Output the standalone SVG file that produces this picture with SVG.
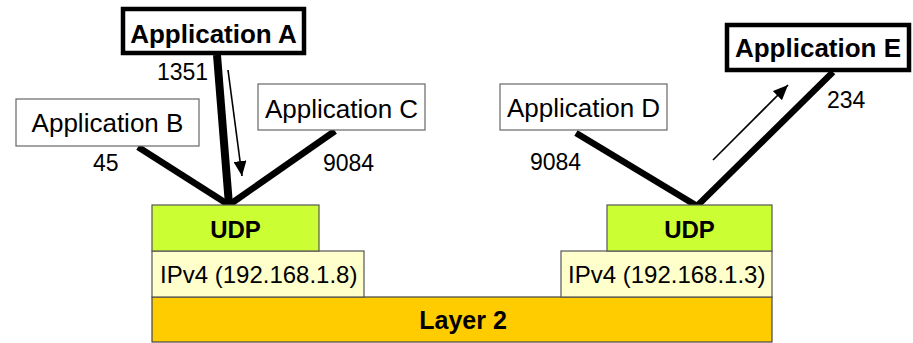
<svg xmlns="http://www.w3.org/2000/svg" width="913" height="343" viewBox="0 0 913 343">
<style>
text{font-family:"Liberation Sans",Arial,sans-serif;fill:#000}
.app{font-size:26px}
.bold{font-weight:bold}
.num{font-size:23px}
.lay{font-size:24px}
.l2t{font-size:25px}
.thin{fill:#fff;stroke:#666;stroke-width:1.2}
.thick{fill:#fff;stroke:#000;stroke-width:4.5}
.udp{fill:#CCFF33;stroke:#555;stroke-width:1.2}
.ip{fill:#FFFFCC;stroke:#555;stroke-width:1.2}
.l2{fill:#FFCC00;stroke:#444;stroke-width:1.2}
.conn{stroke:#000;fill:none}
</style>
<defs>
<marker id="ahb" viewBox="0 0 15 13" refX="15" refY="6.5" markerWidth="15" markerHeight="13" markerUnits="userSpaceOnUse" orient="auto"><path d="M0,0 L15,6.5 L0,13 z" fill="#000"/></marker>
</defs>
<g id="connectors">
<line class="conn" x1="217" y1="55" x2="229" y2="205" stroke-width="8"/>
<line class="conn" x1="138" y1="147" x2="229" y2="205" stroke-width="6.5"/>
<line class="conn" x1="335" y1="131" x2="229" y2="205" stroke-width="6.5"/>
<line class="conn" x1="576" y1="133" x2="697" y2="206" stroke-width="6.5"/>
<line class="conn" x1="833" y1="72" x2="697" y2="206" stroke-width="6.5"/>
<line class="conn" x1="228" y1="70" x2="242" y2="176" stroke-width="1.6" marker-end="url(#ahb)"/>
<line class="conn" x1="713" y1="160" x2="788" y2="85" stroke-width="1.6" marker-end="url(#ahb)"/>
<text class="num" x="157" y="80">1351</text>
<text class="num" x="93" y="171">45</text>
<text class="num" x="323" y="171">9084</text>
<text class="num" x="530" y="170">9084</text>
<text class="num" x="827" y="108">234</text>
</g>
<g id="appA"><rect class="thick" x="123" y="9" width="181" height="44"/><text class="app bold" x="213.5" y="43" text-anchor="middle">Application A</text></g>
<g id="appB"><rect class="thin" x="16" y="99" width="183" height="47"/><text class="app" x="107.5" y="132" text-anchor="middle">Application B</text></g>
<g id="appC"><rect class="thin" x="258" y="84" width="167" height="46"/><text class="app" x="341.5" y="118" text-anchor="middle">Application C</text></g>
<g id="appD"><rect class="thin" x="500" y="84" width="167" height="46"/><text class="app" x="583.5" y="117" text-anchor="middle">Application D</text></g>
<g id="appE"><rect class="thick" x="727" y="25" width="182" height="45"/><text class="app bold" x="818" y="57" text-anchor="middle">Application E</text></g>
<g id="layer2"><rect class="l2" x="152" y="297" width="620" height="45"/><text class="l2t bold" x="463" y="329" text-anchor="middle">Layer 2</text></g>
<g id="ipLeft"><rect class="ip" x="152" y="251" width="212" height="46"/><text class="lay" x="160" y="283">IPv4 (192.168.1.8)</text></g>
<g id="udpLeft"><rect class="udp" x="152" y="205" width="167" height="46"/><text class="lay bold" x="235.5" y="238" text-anchor="middle">UDP</text></g>
<g id="ipRight"><rect class="ip" x="561" y="251" width="211" height="46"/><text class="lay" x="568" y="283">IPv4 (192.168.1.3)</text></g>
<g id="udpRight"><rect class="udp" x="607" y="205" width="165" height="46"/><text class="lay bold" x="689.5" y="238" text-anchor="middle">UDP</text></g>
</svg>
